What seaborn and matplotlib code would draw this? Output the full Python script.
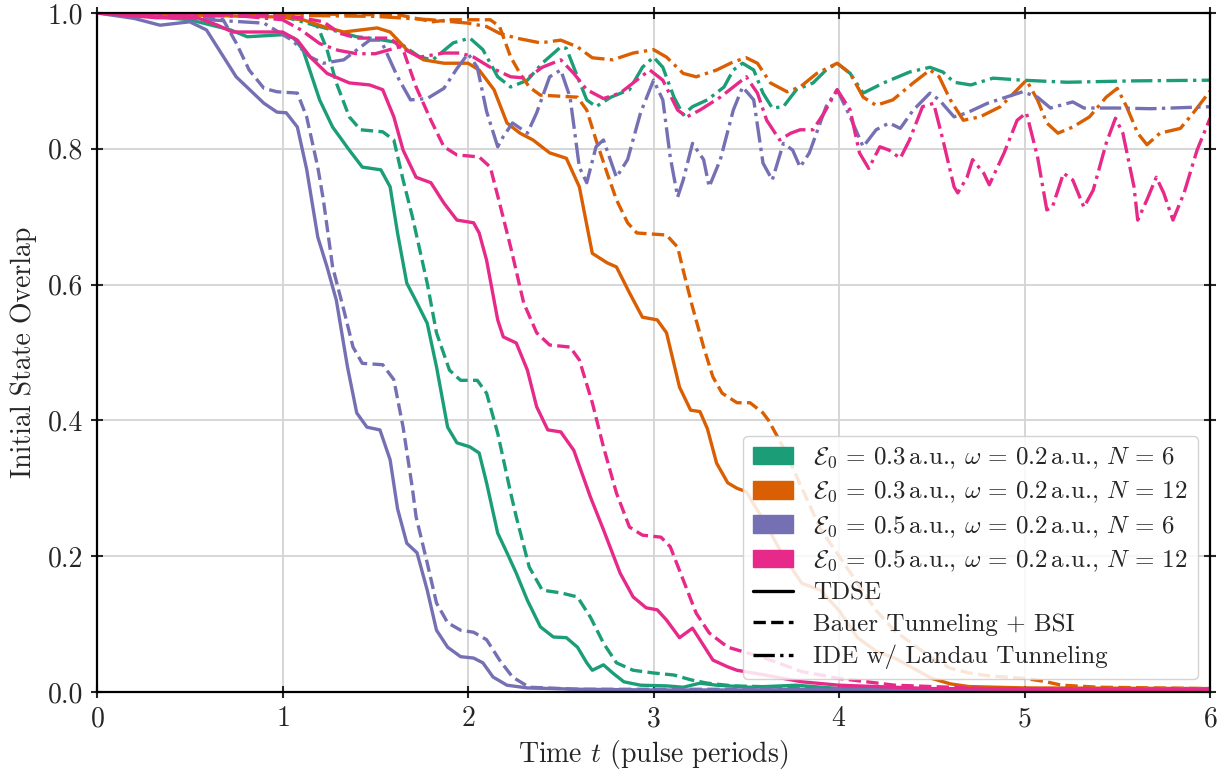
import numpy as np
import pandas as pd
import matplotlib
matplotlib.use("Agg")
import matplotlib.pyplot as plt
import seaborn as sns
from matplotlib.patches import Patch
from matplotlib.lines import Line2D

# configurations and methods
configs = ["E03_N6", "E03_N12", "E05_N6", "E05_N12"]
config_labels = [
    r"$\mathcal{E}_0 \,=\, 0.3\,$a.u., $\omega \,=\, 0.2\,$a.u., $N \,=\, 6$",
    r"$\mathcal{E}_0 \,=\, 0.3\,$a.u., $\omega \,=\, 0.2\,$a.u., $N \,=\, 12$",
    r"$\mathcal{E}_0 \,=\, 0.5\,$a.u., $\omega \,=\, 0.2\,$a.u., $N \,=\, 6$",
    r"$\mathcal{E}_0 \,=\, 0.5\,$a.u., $\omega \,=\, 0.2\,$a.u., $N \,=\, 12$",
]
config_colors = ["#1b9e77", "#d95f02", "#7570b3", "#e7298a"]
methods = ["TDSE", "Bauer Tunneling + BSI", "IDE w/ Landau Tunneling"]

# E0 = 0.3, N = 6 (green)
g_tdse_t = [0, 0.3, 0.5, 0.72, 0.81, 1.0, 1.06, 1.11, 1.2, 1.27,
            1.36, 1.43, 1.53, 1.58, 1.62, 1.67, 1.725, 1.78, 1.83, 1.89,
            1.94, 2.01, 2.06, 2.10, 2.16, 2.21, 2.26, 2.32, 2.39, 2.46,
            2.53, 2.59, 2.64, 2.67, 2.73, 2.78, 2.84, 2.93, 3.07, 3.16,
            3.25, 3.34, 3.52, 3.77, 4.0, 5.0, 6.0]
g_tdse_v = [1.0, 0.995, 0.99, 0.975, 0.965, 0.968, 0.963, 0.946, 0.872, 0.832,
            0.798, 0.773, 0.769, 0.744, 0.676, 0.602, 0.573, 0.543, 0.479, 0.390,
            0.367, 0.361, 0.352, 0.308, 0.234, 0.205, 0.175, 0.135, 0.096, 0.081,
            0.080, 0.066, 0.043, 0.032, 0.040, 0.028, 0.015, 0.010, 0.009, 0.007,
            0.013, 0.010, 0.007, 0.010, 0.005, 0.004, 0.004]
g_bauer_t = [0, 0.8, 1.0, 1.1, 1.19, 1.24, 1.29, 1.36, 1.42, 1.54,
             1.60, 1.65, 1.70, 1.74, 1.78, 1.83, 1.90, 1.96, 2.05, 2.10,
             2.16, 2.23, 2.26, 2.33, 2.40, 2.50, 2.59, 2.66, 2.73, 2.80,
             2.89, 3.0, 3.11, 3.2, 3.29, 3.43, 4.0, 6.0]
g_bauer_v = [1.0, 0.998, 0.995, 0.99, 0.98, 0.946, 0.897, 0.847, 0.828, 0.825,
             0.813, 0.754, 0.70, 0.651, 0.602, 0.529, 0.474, 0.459, 0.459, 0.44,
             0.381, 0.293, 0.258, 0.184, 0.150, 0.146, 0.140, 0.110, 0.072, 0.043,
             0.032, 0.028, 0.025, 0.018, 0.013, 0.009, 0.005, 0.004]
g_ide_t = [0, 1.0, 1.2, 1.4, 1.5, 1.63, 1.74, 1.81, 1.92, 2.01,
           2.08, 2.16, 2.23, 2.32, 2.40, 2.5, 2.53, 2.59, 2.64, 2.69,
           2.77, 2.87, 2.94, 3.0, 3.05, 3.11, 3.16, 3.21, 3.29, 3.38,
           3.43, 3.48, 3.54, 3.59, 3.64, 3.70, 3.77, 3.86, 3.93, 3.99,
           4.06, 4.13, 4.24, 4.38, 4.49, 4.56, 4.62, 4.71, 4.83, 4.99,
           5.23, 5.59, 6.0]
g_ide_v = [1.0, 0.995, 0.98, 0.965, 0.962, 0.956, 0.935, 0.931, 0.956, 0.963,
           0.946, 0.906, 0.891, 0.901, 0.926, 0.950, 0.948, 0.906, 0.872, 0.862,
           0.876, 0.887, 0.920, 0.935, 0.920, 0.876, 0.850, 0.862, 0.872, 0.891,
           0.916, 0.926, 0.916, 0.882, 0.860, 0.862, 0.887, 0.897, 0.916, 0.926,
           0.911, 0.882, 0.897, 0.913, 0.920, 0.913, 0.898, 0.894, 0.904, 0.901,
           0.898, 0.900, 0.901]

# E0 = 0.3, N = 12 (orange)
o_tdse_t = [0, 0.5, 1.0, 1.11, 1.22, 1.33, 1.51, 1.58, 1.67, 1.76,
            1.87, 2.0, 2.06, 2.14, 2.21, 2.28, 2.35, 2.44, 2.53, 2.60,
            2.67, 2.75, 2.80, 2.87, 2.94, 3.02, 3.07, 3.14, 3.20, 3.25,
            3.29, 3.34, 3.40, 3.45, 3.5, 3.6, 3.7, 3.8, 3.9, 4.0,
            4.1, 4.2, 4.3, 4.4, 4.5, 4.6, 4.7, 5.0, 6.0]
o_tdse_v = [1.0, 0.997, 0.994, 0.99, 0.98, 0.972, 0.978, 0.972, 0.946, 0.931,
            0.926, 0.926, 0.916, 0.887, 0.838, 0.823, 0.813, 0.794, 0.786, 0.744,
            0.646, 0.632, 0.626, 0.588, 0.552, 0.548, 0.529, 0.449, 0.415, 0.413,
            0.388, 0.337, 0.308, 0.300, 0.295, 0.25, 0.2, 0.16, 0.15, 0.12,
            0.08, 0.06, 0.05, 0.035, 0.02, 0.012, 0.008, 0.006, 0.005]
o_bauer_t = [0, 1.0, 1.63, 1.81, 1.90, 2.12, 2.17, 2.23, 2.28, 2.33,
             2.39, 2.59, 2.64, 2.69, 2.75, 2.80, 2.86, 2.91, 3.07, 3.13,
             3.16, 3.21, 3.27, 3.32, 3.37, 3.45, 3.52, 3.59, 3.62, 3.7,
             3.8, 3.9, 4.0, 4.1, 4.2, 4.3, 4.4, 4.5, 4.6, 4.7,
             4.8, 4.9, 5.0, 5.1, 5.2, 5.4, 6.0]
o_bauer_v = [1.0, 0.999, 0.997, 0.987, 0.99, 0.99, 0.98, 0.935, 0.911, 0.891,
             0.879, 0.876, 0.857, 0.813, 0.764, 0.725, 0.691, 0.676, 0.673, 0.655,
             0.621, 0.567, 0.508, 0.464, 0.440, 0.426, 0.426, 0.411, 0.40, 0.36,
             0.30, 0.24, 0.20, 0.16, 0.12, 0.09, 0.07, 0.05, 0.035, 0.028,
             0.024, 0.022, 0.02, 0.016, 0.01, 0.007, 0.005]
o_ide_t = [0, 1.5, 1.8, 2.0, 2.1, 2.17, 2.26, 2.39, 2.5, 2.59,
           2.67, 2.78, 2.89, 3.0, 3.07, 3.16, 3.23, 3.34, 3.43, 3.50,
           3.56, 3.63, 3.72, 3.79, 3.88, 3.99, 4.06, 4.13, 4.2, 4.29,
           4.40, 4.49, 4.54, 4.60, 4.67, 4.76, 4.87, 4.96, 5.01, 5.07,
           5.12, 5.18, 5.26, 5.35, 5.44, 5.50, 5.55, 5.61, 5.66, 5.73,
           5.84, 5.91, 6.0]
o_ide_v = [1.0, 0.995, 0.99, 0.985, 0.98, 0.970, 0.963, 0.956, 0.960, 0.950,
           0.934, 0.931, 0.941, 0.946, 0.935, 0.911, 0.906, 0.916, 0.928, 0.934,
           0.926, 0.897, 0.884, 0.891, 0.911, 0.926, 0.911, 0.876, 0.864, 0.872,
           0.897, 0.916, 0.906, 0.872, 0.842, 0.847, 0.862, 0.887, 0.901, 0.872,
           0.838, 0.823, 0.832, 0.847, 0.876, 0.889, 0.862, 0.823, 0.806, 0.823,
           0.830, 0.853, 0.885]

# E0 = 0.5, N = 6 (purple)
p_tdse_t = [0, 0.2, 0.34, 0.5, 0.59, 0.75, 0.9, 0.97, 1.02, 1.08,
            1.13, 1.19, 1.24, 1.29, 1.35, 1.40, 1.455, 1.525, 1.58, 1.62,
            1.67, 1.725, 1.78, 1.83, 1.89, 1.96, 2.03, 2.08, 2.135, 2.21,
            2.32, 2.6, 3.0, 6.0]
p_tdse_v = [1.0, 0.992, 0.982, 0.987, 0.975, 0.906, 0.867, 0.854, 0.853, 0.832,
            0.77, 0.67, 0.626, 0.577, 0.479, 0.411, 0.390, 0.386, 0.342, 0.27,
            0.219, 0.205, 0.150, 0.091, 0.066, 0.052, 0.050, 0.043, 0.022, 0.010,
            0.006, 0.004, 0.003, 0.003]
p_bauer_t = [0, 0.5, 0.68, 0.75, 0.82, 0.9, 0.97, 1.08, 1.13, 1.19,
             1.22, 1.27, 1.33, 1.38, 1.43, 1.54, 1.60, 1.65, 1.70, 1.72,
             1.78, 1.83, 1.89, 1.96, 2.03, 2.10, 2.17, 2.24, 2.33, 2.6, 6.0]
p_bauer_v = [1.0, 0.995, 0.99, 0.956, 0.916, 0.889, 0.884, 0.882, 0.847, 0.773,
             0.725, 0.626, 0.563, 0.508, 0.484, 0.482, 0.46, 0.390, 0.30, 0.258,
             0.19, 0.131, 0.102, 0.091, 0.088, 0.077, 0.047, 0.022, 0.007, 0.004, 0.004]
p_ide_t = [0, 0.9, 1.05, 1.15, 1.22, 1.33, 1.47, 1.53, 1.62, 1.69,
           1.78, 1.87, 1.94, 2.0, 2.05, 2.10, 2.16, 2.19, 2.24, 2.32,
           2.37, 2.44, 2.5, 2.55, 2.60, 2.64, 2.69, 2.73, 2.80, 2.86,
           2.93, 3.0, 3.05, 3.09, 3.13, 3.16, 3.21, 3.27, 3.30, 3.36,
           3.43, 3.48, 3.54, 3.59, 3.64, 3.70, 3.75, 3.79, 3.84, 3.93,
           3.99, 4.06, 4.13, 4.2, 4.27, 4.33, 4.40, 4.49, 4.54, 4.62,
           4.69, 4.80, 4.9, 4.99, 5.07, 5.14, 5.26, 5.32, 5.5, 5.68, 6.0]
p_ide_v = [1.0, 0.985, 0.96, 0.935, 0.926, 0.931, 0.960, 0.96, 0.906, 0.872,
           0.874, 0.889, 0.918, 0.94, 0.92, 0.855, 0.803, 0.818, 0.838, 0.823,
           0.853, 0.906, 0.916, 0.876, 0.773, 0.75, 0.803, 0.813, 0.758, 0.784,
           0.853, 0.901, 0.872, 0.788, 0.729, 0.754, 0.808, 0.784, 0.744, 0.784,
           0.857, 0.891, 0.872, 0.779, 0.754, 0.808, 0.798, 0.773, 0.794, 0.862,
           0.887, 0.847, 0.803, 0.828, 0.838, 0.830, 0.857, 0.882, 0.872, 0.847,
           0.853, 0.867, 0.876, 0.884, 0.876, 0.860, 0.869, 0.860, 0.860, 0.859, 0.862]

# E0 = 0.5, N = 12 (pink)
k_tdse_t = [0, 0.32, 0.54, 0.65, 0.73, 0.9, 1.0, 1.08, 1.15, 1.24,
            1.36, 1.47, 1.54, 1.60, 1.65, 1.72, 1.80, 1.87, 1.94, 2.03,
            2.06, 2.10, 2.16, 2.19, 2.26, 2.32, 2.37, 2.43, 2.50, 2.57,
            2.66, 2.73, 2.82, 2.89, 2.96, 3.02, 3.07, 3.14, 3.21, 3.25,
            3.32, 3.40, 3.45, 3.6, 3.8, 4.0, 4.5, 6.0]
k_tdse_v = [1.0, 0.993, 0.993, 0.982, 0.972, 0.972, 0.972, 0.960, 0.935, 0.911,
            0.897, 0.894, 0.887, 0.847, 0.798, 0.758, 0.75, 0.720, 0.695, 0.691,
            0.676, 0.636, 0.548, 0.523, 0.514, 0.474, 0.420, 0.386, 0.383, 0.356,
            0.287, 0.239, 0.175, 0.140, 0.124, 0.121, 0.106, 0.080, 0.094, 0.077,
            0.047, 0.037, 0.032, 0.025, 0.015, 0.01, 0.005, 0.003]
k_bauer_t = [0, 0.8, 1.0, 1.1, 1.22, 1.31, 1.40, 1.58, 1.65, 1.72,
             1.80, 1.87, 1.94, 2.06, 2.12, 2.17, 2.23, 2.30, 2.37, 2.44,
             2.55, 2.60, 2.67, 2.73, 2.80, 2.87, 2.94, 3.04, 3.09, 3.16,
             3.23, 3.30, 3.40, 3.45, 3.6, 3.8, 4.0, 4.3, 4.8, 6.0]
k_bauer_v = [1.0, 0.998, 0.995, 0.993, 0.987, 0.97, 0.963, 0.963, 0.946, 0.891,
             0.842, 0.803, 0.791, 0.788, 0.773, 0.720, 0.655, 0.573, 0.529, 0.511,
             0.508, 0.489, 0.426, 0.361, 0.293, 0.243, 0.231, 0.228, 0.214, 0.165,
             0.116, 0.087, 0.066, 0.062, 0.05, 0.03, 0.02, 0.01, 0.005, 0.004]
k_ide_t = [0, 0.8, 1.0, 1.1, 1.2, 1.3, 1.4, 1.5, 1.63, 1.74,
           1.87, 1.96, 2.03, 2.12, 2.23, 2.32, 2.40, 2.5, 2.57, 2.64,
           2.73, 2.82, 2.89, 2.98, 3.05, 3.13, 3.18, 3.25, 3.36, 3.43,
           3.50, 3.56, 3.61, 3.68, 3.74, 3.79, 3.86, 3.92, 3.99, 4.06,
           4.11, 4.16, 4.22, 4.27, 4.33, 4.38, 4.45, 4.51, 4.56, 4.62,
           4.64, 4.69, 4.72, 4.78, 4.81, 4.89, 4.96, 5.01, 5.07, 5.12,
           5.15, 5.21, 5.26, 5.32, 5.37, 5.44, 5.49, 5.53, 5.59, 5.61,
           5.66, 5.71, 5.75, 5.80, 5.86, 5.93, 6.0]
k_ide_v = [1.0, 0.995, 0.99, 0.975, 0.955, 0.945, 0.94, 0.94, 0.950, 0.935,
           0.941, 0.941, 0.935, 0.920, 0.906, 0.904, 0.920, 0.931, 0.911, 0.887,
           0.874, 0.882, 0.897, 0.916, 0.901, 0.857, 0.847, 0.857, 0.876, 0.891,
           0.906, 0.882, 0.842, 0.813, 0.823, 0.828, 0.828, 0.853, 0.887, 0.857,
           0.794, 0.771, 0.803, 0.798, 0.786, 0.813, 0.862, 0.867, 0.813, 0.744,
           0.735, 0.758, 0.784, 0.764, 0.747, 0.794, 0.842, 0.853, 0.788, 0.710,
           0.714, 0.764, 0.754, 0.714, 0.739, 0.808, 0.845, 0.823, 0.744, 0.695,
           0.725, 0.758, 0.735, 0.695, 0.735, 0.798, 0.845]

series = [
    ("E03_N6", "TDSE", g_tdse_t, g_tdse_v),
    ("E03_N6", "Bauer Tunneling + BSI", g_bauer_t, g_bauer_v),
    ("E03_N6", "IDE w/ Landau Tunneling", g_ide_t, g_ide_v),
    ("E03_N12", "TDSE", o_tdse_t, o_tdse_v),
    ("E03_N12", "Bauer Tunneling + BSI", o_bauer_t, o_bauer_v),
    ("E03_N12", "IDE w/ Landau Tunneling", o_ide_t, o_ide_v),
    ("E05_N6", "TDSE", p_tdse_t, p_tdse_v),
    ("E05_N6", "Bauer Tunneling + BSI", p_bauer_t, p_bauer_v),
    ("E05_N6", "IDE w/ Landau Tunneling", p_ide_t, p_ide_v),
    ("E05_N12", "TDSE", k_tdse_t, k_tdse_v),
    ("E05_N12", "Bauer Tunneling + BSI", k_bauer_t, k_bauer_v),
    ("E05_N12", "IDE w/ Landau Tunneling", k_ide_t, k_ide_v),
]
frames = []
for cfg, meth, t, v in series:
    frames.append(pd.DataFrame({"t": t, "overlap": v, "config": cfg, "method": meth}))
df = pd.concat(frames, ignore_index=True)

sns.set_style("white")
plt.rcParams["font.family"] = "serif"
plt.rcParams["font.serif"] = ["cmr10", "DejaVu Serif"]
plt.rcParams["mathtext.fontset"] = "cm"
plt.rcParams["axes.formatter.use_mathtext"] = True
plt.rcParams["font.size"] = 18

fig, ax = plt.subplots(figsize=(12.25, 7.77), dpi=100)
fig.subplots_adjust(left=0.0792, right=0.9878, top=0.9833, bottom=0.1094)

dash_map = {"TDSE": "", "Bauer Tunneling + BSI": (3.7, 1.6),
            "IDE w/ Landau Tunneling": (6.4, 1.6, 1.0, 1.6)}
sns.lineplot(data=df, x="t", y="overlap", hue="config", style="method",
             hue_order=configs, style_order=methods,
             palette=dict(zip(configs, config_colors)), dashes=dash_map,
             estimator=None, sort=False, linewidth=2.4, legend=False, ax=ax)
for ln in ax.get_lines():
    ln.set_solid_joinstyle("round")
    ln.set_dash_joinstyle("round")

ax.set_xlim(0, 6)
ax.set_ylim(0, 1)
ax.set_xticks(range(7))
ax.set_yticks(np.arange(0, 1.01, 0.2))
ax.set_yticklabels([f"{y:.1f}" for y in np.arange(0, 1.01, 0.2)])
ax.grid(True, color="#d3d3d3", linewidth=1.3)
for s in ax.spines.values():
    s.set_linewidth(1.6)
    s.set_color("black")
ax.tick_params(direction="inout", length=8, width=1.5, top=True, right=True,
               bottom=True, left=True, labelsize=20, pad=6)
ax.set_xlabel(r"Time $t$ (pulse periods)", fontsize=20, labelpad=4)
ax.set_ylabel("Initial State Overlap", fontsize=20, labelpad=8)

handles = [Patch(color=c, label=l) for c, l in zip(config_colors, config_labels)]
handles += [Line2D([], [], color="black", linewidth=2.4, linestyle="-", label=methods[0]),
            Line2D([], [], color="black", linewidth=2.4, linestyle="--", label=methods[1]),
            Line2D([], [], color="black", linewidth=2.4, linestyle="-.", label=methods[2])]
ax.legend(handles=handles, loc="lower right", fontsize=18, framealpha=0.85,
          edgecolor="#cccccc", handlelength=1.6, labelspacing=0.35,
          borderaxespad=0.5, handletextpad=0.8)

fig.savefig("out.png", dpi=100)
